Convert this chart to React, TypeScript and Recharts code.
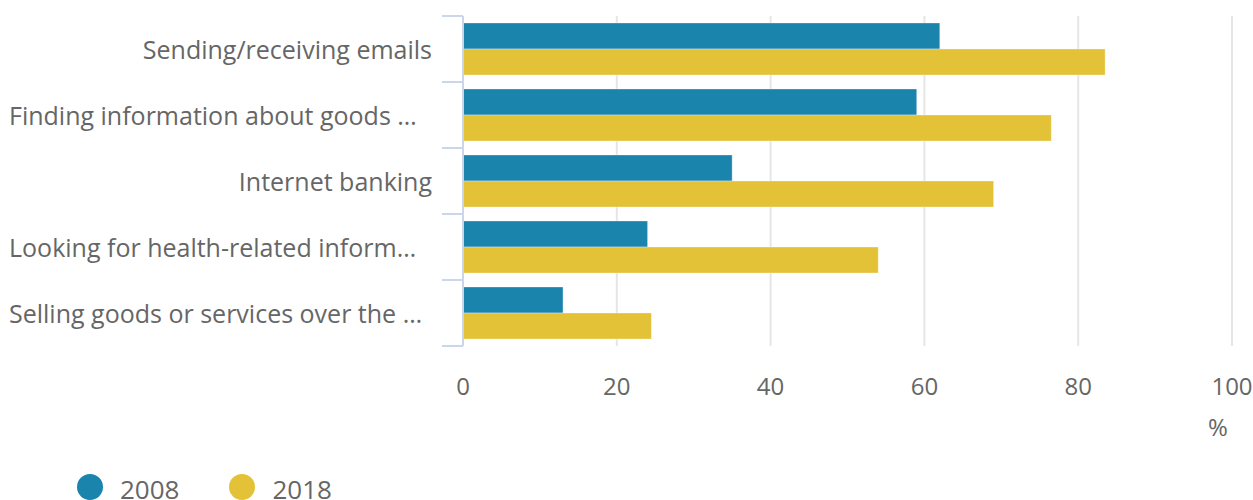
import React from 'react';
import { BarChart, Bar, XAxis, YAxis, CartesianGrid } from 'recharts';

const categories = [
  'Sending/receiving emails',
  'Finding information about goods …',
  'Internet banking',
  'Looking for health-related inform…',
  'Selling goods or services over the …',
];
const values2008 = [62, 59, 35, 24, 13];
const values2018 = [83.5, 76.5, 69, 54, 24.5];
const xTicks = [0, 20, 40, 60, 80, 100];
const seriesNames = ['2008', '2018'];
const seriesColors = ['#1a84ad', '#e3c237'];

const data = categories.map((c, i) => ({ name: c, v2008: values2008[i], v2018: values2018[i] }));

const W = 1253;
const H = 500;
const TOP = 16;
const PLOT_BOTTOM = 346;
const YW = 463;
const FONT = '"Open Sans", sans-serif';
const TEXT = '#666666';

const CatTick = (props: any) => {
  const { y, payload, index } = props;
  const band = (PLOT_BOTTOM - TOP) / categories.length;
  const ax = YW;
  const truncated = String(payload.value).endsWith('…');
  return (
    <g>
      <line x1={ax - 21} x2={ax} y1={y - band / 2} y2={y - band / 2} stroke="#ccd6eb" strokeWidth={2} />
      {index === categories.length - 1 && (
        <line x1={ax - 21} x2={ax} y1={y + band / 2} y2={y + band / 2} stroke="#ccd6eb" strokeWidth={2} />
      )}
      <text
        x={truncated ? 9 : ax - 31}
        y={y}
        textAnchor={truncated ? 'start' : 'end'}
        dominantBaseline="central"
        fill={TEXT}
        fontSize={25}
        fontFamily={FONT}
      >
        {payload.value}
      </text>
    </g>
  );
};

export default function App() {
  return (
    <div style={{ position: 'absolute', left: 0, top: 0, width: W, height: H, background: '#fff', fontFamily: FONT }}>
      <BarChart
        width={W}
        height={H}
        data={data}
        layout="vertical"
        margin={{ top: TOP, right: 21, left: 0, bottom: 0 }}
        barCategoryGap={7}
        barGap={0}
      >
        <CartesianGrid horizontal={false} stroke="#e6e6e6" strokeWidth={2} />
        <XAxis
          type="number"
          domain={[0, 100]}
          ticks={xTicks}
          height={H - PLOT_BOTTOM}
          axisLine={false}
          tickLine={false}
          tick={{ fill: TEXT, fontSize: 24, fontFamily: FONT }}
          tickMargin={26}
          interval={0}
        />
        <YAxis
          type="category"
          dataKey="name"
          width={YW}
          axisLine={{ stroke: '#ccd6eb', strokeWidth: 2 }}
          tickLine={false}
          tick={<CatTick />}
          interval={0}
        />
        <Bar dataKey="v2008" name={seriesNames[0]} fill={seriesColors[0]} stroke="rgba(255,255,255,0.3)" isAnimationActive={false} />
        <Bar dataKey="v2018" name={seriesNames[1]} fill={seriesColors[1]} stroke="rgba(255,255,255,0.3)" isAnimationActive={false} />
      </BarChart>
      <div style={{ position: 'absolute', left: 1208, top: 410, fontSize: 24, color: TEXT }}>%</div>
      <div style={{ position: 'absolute', left: 77, top: 472, display: 'flex', alignItems: 'center' }}>
        {seriesNames.map((n, i) => (
          <div key={n} style={{ display: 'flex', alignItems: 'center', marginRight: 50 }}>
            <span style={{ display: 'inline-block', width: 26, height: 26, borderRadius: 13, background: seriesColors[i], marginRight: 17 }} />
            <span style={{ fontSize: 26, color: TEXT, lineHeight: '30px', position: 'relative', top: 2 }}>{n}</span>
          </div>
        ))}
      </div>
    </div>
  );
}
